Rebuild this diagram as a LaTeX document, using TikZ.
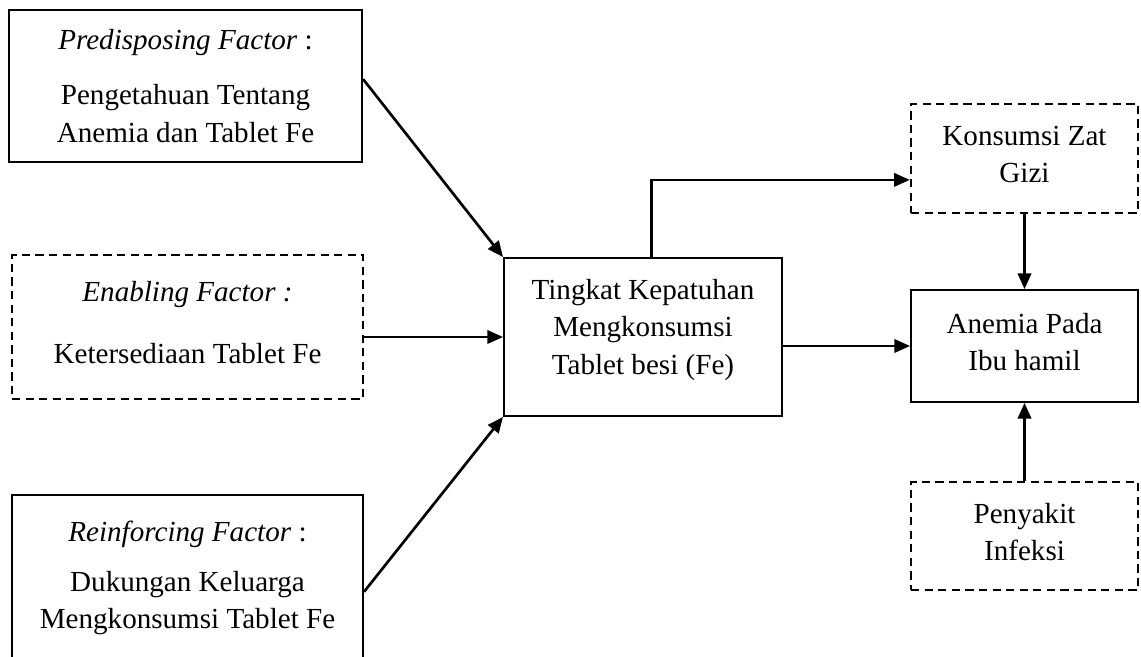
\documentclass[tikz,border=0pt]{standalone}
\usepackage{fontspec}
\setmainfont{Liberation Serif}
\usetikzlibrary{arrows.meta}

\tikzset{
  box/.style={draw, line width=0.8pt, inner sep=0pt, align=center, font=\fontsize{12}{15.5}\selectfont},
  dbox/.style={box, line width=1pt, dash pattern=on 3.4pt off 2.2pt},
  arr/.style={-{Triangle[length=6.5pt,width=5.5pt]}, line width=1.1pt}
}

\begin{document}
\begin{tikzpicture}[x=0.0145cm, y=-0.0145cm]

\clip (0,0) rectangle (1141,657);

% faktor-faktor
\node[box, minimum width=5.12cm, minimum height=2.2cm] (pre) at (185.5,86)
  {\textit{Predisposing Factor} :\\[7pt] Pengetahuan Tentang\\ Anemia dan Tablet Fe};
\node[dbox, minimum width=5.09cm, minimum height=2.09cm] (enab) at (187.5,327)
  {\textit{Enabling Factor :}\\[10pt] Ketersediaan Tablet Fe\\[-12pt]};
\node[box, minimum width=5.09cm, minimum height=2.41cm] (rein) at (187.5,578)
  {\textit{Reinforcing Factor} :\\[5pt] Dukungan Keluarga\\ Mengkonsumsi Tablet Fe};

% kepatuhan
\node[box, minimum width=4.03cm, minimum height=2.29cm] (kep) at (643,337)
  {Tingkat Kepatuhan\\ Mengkonsumsi\\ Tablet besi (Fe)\\[-7pt]};

% sisi kanan
\node[dbox, minimum width=3.29cm, minimum height=1.58cm] (giz) at (1024.5,158.5)
  {Konsumsi Zat\\ Gizi\\[-12pt]};
\node[box, minimum width=3.29cm, minimum height=1.62cm] (anm) at (1024.5,346)
  {Anemia Pada\\ Ibu hamil\\[-12pt]};
\node[dbox, minimum width=3.29cm, minimum height=1.57cm] (pny) at (1024.5,536)
  {Penyakit\\ Infeksi\\[-12pt]};

\draw[arr] ([yshift=0.1cm]pre.east) -- (kep.north west);
\draw[arr] (enab.east |- kep.west) -- (kep.west);
\draw[arr] ([yshift=-0.2cm]rein.east) -- (kep.south west);

\draw[arr] ([xshift=0.12cm]kep.north) |- ([yshift=-0.31cm]giz.west);
\draw[arr] (kep.east |- anm.west) -- (anm.west);
\draw[arr] (giz.south) -- (anm.north);
\draw[arr] (pny.north) -- (anm.south);

\end{tikzpicture}
\end{document}
